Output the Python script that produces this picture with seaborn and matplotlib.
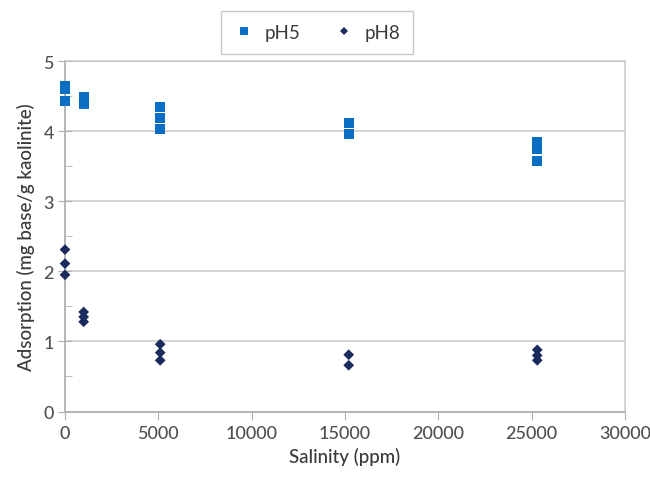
import pandas as pd
import matplotlib
matplotlib.use('Agg')
import matplotlib.pyplot as plt
import seaborn as sns
from matplotlib.ticker import MultipleLocator

# salinity groups (ppm) and adsorption readings (mg base / g kaolinite)
ph5_salinity = [0, 0, 0, 1000, 1000, 5100, 5100, 5100, 15200, 15200, 25300, 25300, 25300]
ph5_adsorption = [4.64, 4.60, 4.43, 4.49, 4.39, 4.34, 4.19, 4.03, 4.12, 3.96, 3.84, 3.74, 3.57]

ph8_salinity = [0, 0, 0, 1000, 1000, 1000, 5100, 5100, 5100, 15200, 15200, 25300, 25300, 25300]
ph8_adsorption = [2.31, 2.11, 1.95, 1.42, 1.35, 1.28, 0.96, 0.84, 0.73, 0.81, 0.66, 0.88, 0.80, 0.73]

series_names = ['pH5', 'pH8']
series_colors = {'pH5': '#0a6fc2', 'pH8': '#1b2b5e'}
series_markers = {'pH5': 's', 'pH8': 'D'}
series_sizes = {'pH5': 52, 'pH8': 30}

df = pd.concat([
    pd.DataFrame({'Salinity': ph5_salinity, 'Adsorption': ph5_adsorption, 'series': 'pH5'}),
    pd.DataFrame({'Salinity': ph8_salinity, 'Adsorption': ph8_adsorption, 'series': 'pH8'}),
])

sns.set_style('white')
plt.rcParams['font.family'] = ['Lato', 'DejaVu Sans']

fig = plt.figure(figsize=(6.5, 4.81), dpi=100)
ax = fig.add_axes([0.1, 0.1424, 0.8615, 0.7286])

sns.scatterplot(data=df, x='Salinity', y='Adsorption', hue='series', style='series',
                size='series', hue_order=series_names, style_order=series_names,
                size_order=series_names, sizes=series_sizes,
                palette=series_colors, markers=series_markers,
                linewidth=0, ax=ax, legend=True, zorder=3, clip_on=False)

ax.set_xlim(0, 30000)
ax.set_ylim(0, 5)
ax.xaxis.set_major_locator(MultipleLocator(5000))
ax.yaxis.set_major_locator(MultipleLocator(1))
ax.yaxis.set_minor_locator(MultipleLocator(0.5))
ax.grid(axis='y', which='major', color='#c8c8c8', linewidth=1.1)
ax.set_axisbelow(True)

for side in ['left', 'bottom']:
    ax.spines[side].set_color('#b0b0b0')
    ax.spines[side].set_linewidth(1.3)
for side in ['top', 'right']:
    ax.spines[side].set_color('#c8c8c8')
    ax.spines[side].set_linewidth(1.1)

ax.tick_params(axis='x', which='major', direction='out', length=6, color='#b0b0b0',
               labelsize=13, labelcolor='#505050', pad=4, bottom=True)
ax.tick_params(axis='y', which='major', direction='inout', length=10, color='#b0b0b0',
               labelsize=13, labelcolor='#505050', pad=3, left=True)
ax.tick_params(axis='y', which='minor', direction='in', length=5, color='#b0b0b0', left=True)
for lbl in ax.get_xticklabels() + ax.get_yticklabels():
    lbl.set_fontweight('medium')

ax.set_xlabel('Salinity (ppm)', fontsize=13.5, color='#3a3a3a', labelpad=4, fontweight='medium')
ax.set_ylabel('Adsorption (mg base/g kaolinite)', fontsize=13.5, color='#3a3a3a',
              labelpad=6, fontweight='medium')

handles, labels = ax.get_legend_handles_labels()
ax.legend_.remove()
leg = fig.legend(handles, labels, loc='upper center', bbox_to_anchor=(0.488, 0.995),
                 ncol=2, frameon=True, fancybox=False, edgecolor='#bfbfbf',
                 fontsize=13.5, markerscale=0.8, handletextpad=0.6, columnspacing=1.8,
                 borderpad=0.7, handlelength=1.0)
for t in leg.get_texts():
    t.set_color('#3a3a3a')
leg.get_frame().set_linewidth(1.0)

fig.savefig('out.png', dpi=100)
